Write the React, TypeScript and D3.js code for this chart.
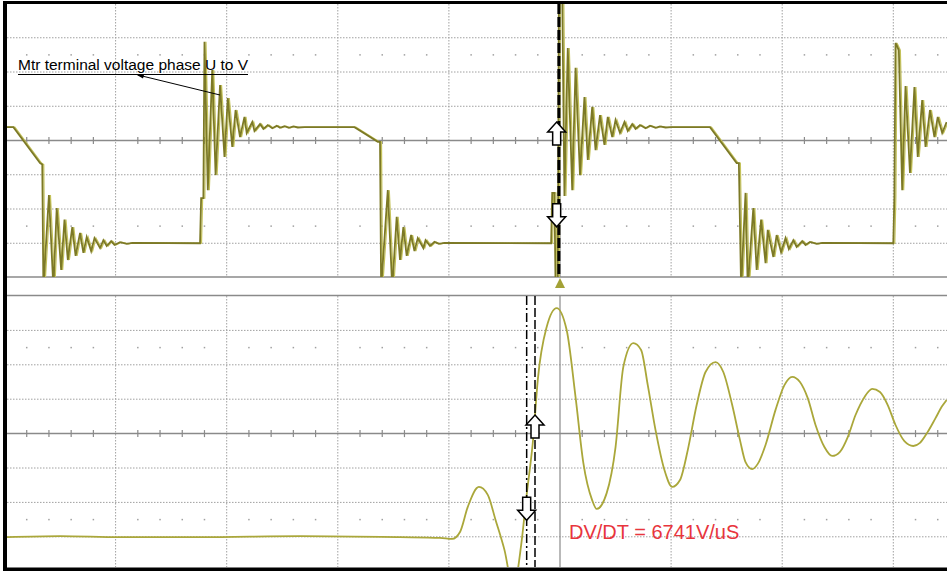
import React from 'react';
import * as d3 from 'd3';

// ---- data (units: oscilloscope divisions; t = horizontal, v = vertical) ----
const topTrace: [number, number][] = [
  [-4.99, 0.39], [-4.92, 0.39], [-4.68, -0.66],
  [-4.66, -0.7], [-4.65, -4.3], [-4.60, -1.59], [-4.56, -4.3], [-4.53, -1.97], [-4.49, -3.78],
  [-4.46, -2.31], [-4.43, -3.49], [-4.39, -2.53], [-4.36, -3.37], [-4.32, -2.70], [-4.29, -3.28],
  [-4.26, -2.82], [-4.22, -3.23], [-4.19, -2.85], [-4.14, -3.14], [-4.11, -2.91], [-4.08, -3.08],
  [-4.04, -2.94], [-4.01, -3.05], [-3.96, -2.97], [-3.90, -3.02], [-3.85, -2.99], [-3.24, -3.0],
  [-3.23, -1.68], [-3.21, -1.68], [-3.20, 2.88], [-3.17, -1.45], [-3.13, 2.06], [-3.10, -1.01],
  [-3.06, 1.62], [-3.02, -0.48], [-2.99, 1.24], [-2.95, -0.19], [-2.92, 0.89], [-2.88, 0.10],
  [-2.84, 0.69], [-2.82, 0.22], [-2.77, 0.54], [-2.75, 0.28], [-2.70, 0.48], [-2.67, 0.34],
  [-2.63, 0.45], [-2.59, 0.36], [-2.55, 0.43], [-2.52, 0.37], [-2.48, 0.42], [-2.44, 0.37],
  [-2.40, 0.41], [-2.36, 0.38], [-2.30, 0.39], [-1.85, 0.39],
  [-1.64, -0.04], [-1.62, -0.04], [-1.61, -4.3], [-1.55, -1.45], [-1.51, -4.3], [-1.47, -2.23],
  [-1.44, -3.49], [-1.41, -2.53], [-1.38, -3.37], [-1.34, -2.76], [-1.31, -3.23], [-1.28, -2.85],
  [-1.23, -3.14], [-1.21, -2.91], [-1.17, -3.08], [-1.13, -2.96], [-1.09, -3.02], [-1.04, -2.99],
  [-0.08, -3.0],
  [-0.07, -1.53], [-0.05, -1.53], [-0.04, -4.3], [-0.02, -4.3], [-0.01, 4.3], [0.02, 4.3],
  [0.04, -1.62], [0.07, 2.70], [0.11, -1.45], [0.14, 2.12], [0.18, -1.01], [0.22, 1.27],
  [0.25, -0.57], [0.29, 0.98], [0.32, -0.28], [0.36, 0.74], [0.40, -0.13], [0.43, 0.69],
  [0.47, 0.10], [0.50, 0.60], [0.54, 0.22], [0.58, 0.54], [0.61, 0.28], [0.65, 0.48],
  [0.68, 0.34], [0.72, 0.45], [0.77, 0.36], [0.81, 0.43], [0.86, 0.37], [0.90, 0.41],
  [0.95, 0.38], [1.00, 0.39], [1.35, 0.39],
  [1.59, -0.66], [1.61, -0.66], [1.63, -4.3], [1.67, -1.53], [1.69, -4.3], [1.74, -1.97],
  [1.77, -3.78], [1.81, -2.31], [1.85, -3.58], [1.87, -2.61], [1.92, -3.40], [1.95, -2.76],
  [1.99, -3.26], [2.03, -2.85], [2.06, -3.17], [2.10, -2.91], [2.13, -3.11], [2.18, -2.94],
  [2.21, -3.05], [2.25, -2.96], [2.31, -3.02], [2.36, -2.99], [3.00, -3.0],
  [3.01, -1.62], [3.02, 2.85], [3.05, 2.64], [3.08, -1.45], [3.11, 1.59], [3.15, -0.95],
  [3.19, 1.56], [3.22, -0.48], [3.26, 1.18], [3.29, -0.19], [3.33, 0.89], [3.37, 0.10],
  [3.40, 0.69], [3.44, 0.22], [3.48, 0.54],
];

const bottomTrace: [number, number][] = [
  [-4.99, -3.01], [-4.50, -2.98], [-3.96, -3.01], [-3.24, -3.01], [-2.34, -2.98], [-1.44, -3.01],
  [-1.08, -3.03], [-0.97, -3.06], [-0.90, -2.86], [-0.83, -2.13], [-0.73, -1.55], [-0.65, -1.78],
  [-0.58, -2.51], [-0.50, -3.38], [-0.42, -4.5], [-0.35, -3.25], [-0.30, -1.78], [-0.24, -0.10],
  [-0.20, 1.56], [-0.12, 3.10], [-0.03, 3.65], [0.06, 3.01], [0.14, 1.06], [0.21, -0.85],
  [0.29, -1.94], [0.33, -2.19], [0.42, -1.73], [0.50, -0.39], [0.57, 1.94], [0.66, 2.63],
  [0.73, 2.43], [0.79, 1.41], [0.86, 0.10], [0.94, -1.06], [1.01, -1.55], [1.08, -1.35],
  [1.15, -0.48], [1.23, 0.83], [1.31, 1.79], [1.40, 2.08], [1.47, 1.79], [1.55, 0.83],
  [1.62, -0.19], [1.67, -0.83], [1.73, -1.03], [1.78, -0.88], [1.85, -0.33], [1.94, 0.69],
  [2.02, 1.41], [2.09, 1.65], [2.16, 1.50], [2.23, 1.03], [2.30, 0.25], [2.38, -0.39],
  [2.45, -0.65], [2.52, -0.53], [2.59, -0.10], [2.66, 0.54], [2.74, 1.06], [2.81, 1.30],
  [2.88, 1.21], [2.95, 0.83], [3.02, 0.25], [3.10, -0.22], [3.18, -0.36], [3.24, -0.27],
  [3.31, 0.05], [3.38, 0.45], [3.44, 0.80], [3.48, 0.98],
];

const majorT = [-4, -3, -2, -1, 0, 1, 2, 3];
const gridV = [-3, -2, -1, 1, 2, 3];
const dotRowsV = [-2.5, 2.5];
const topCursorT = -0.01;
const topArrowT = -0.03;
const bottomCursorDashDotT = -0.3;
const bottomCursorDashT = -0.225;
const arrowUpTipV = 0.54;
const arrowDownTipV = -2.52;
const triggerT = 0;
const labelText = 'Mtr terminal voltage phase U to V';
const dvdtText = 'DV/DT = 6741V/uS';

const W = 947;
const H = 571;

export default function App() {
  const x = d3.scaleLinear().domain([-5, 5]).range([4.5, 1115.5]);
  const yTop = d3.scaleLinear().domain([-4, 4]).range([277.5, 3.5]);
  const yBot = d3.scaleLinear().domain([-4, 4]).range([571.2, 296]);

  const panels = [
    { id: 'top', y: yTop, y0: 4, y1: 277 },
    { id: 'bot', y: yBot, y0: 296, y1: 567 },
  ];
  const xL = 7;
  const xR = W;

  const minorT: number[] = [];
  for (let k = -25; k <= 18; k++) {
    if (k % 5 === 0) continue;
    const px = x(k / 5);
    if (px > xL + 2 && px < xR) minorT.push(k / 5);
  }

  const gray = '#8a8a8a';
  const dotGray = '#a0a0a0';

  const lineTop = d3.line<[number, number]>().x((d) => x(d[0])).y((d) => yTop(d[1]));
  const lineBot = d3
    .line<[number, number]>()
    .x((d) => x(d[0]))
    .y((d) => yBot(d[1]))
    .curve(d3.curveMonotoneX);

  const arrow = (cx: number, tipY: number, dir: 'up' | 'down') => {
    const s = dir === 'up' ? 1 : -1;
    const pts = [
      [0, 0], [9, 10], [4, 10], [4, 23], [-4, 23], [-4, 10], [-9, 10],
    ].map(([a, b]) => `${cx + a},${tipY + s * b}`);
    return <polygon points={pts.join(' ')} fill="#fff" stroke="#000" strokeWidth={1.5} strokeLinejoin="miter" />;
  };

  return (
    <svg
      width={W}
      height={H}
      style={{ position: 'absolute', left: 0, top: 0, background: '#fff' }}
      fontFamily="'Liberation Sans', Arial, sans-serif"
    >
      <defs>
        {panels.map((p) => (
          <clipPath id={`clip-${p.id}`} key={p.id}>
            <rect x={xL} y={p.y0} width={xR - xL} height={p.y1 - p.y0} />
          </clipPath>
        ))}
      </defs>
      <rect x={0} y={0} width={W} height={H} fill="#fff" />

      {panels.map((p) => {
        const yc = p.y(0);
        return (
          <g key={p.id}>
            {gridV.map((v) => (
              <line key={v} x1={xL} x2={xR} y1={p.y(v)} y2={p.y(v)} stroke={dotGray} strokeWidth={1} strokeDasharray="1.5,1.5" />
            ))}
            {majorT.filter((t) => t !== 0).map((t) => (
              <line key={t} x1={x(t)} x2={x(t)} y1={p.y0} y2={p.y1} stroke={dotGray} strokeWidth={1} strokeDasharray="1.5,1.5" />
            ))}
            {dotRowsV.map((v) =>
              minorT.map((t) => (
                <rect key={`${v}-${t}`} x={x(t) - 0.75} y={p.y(v) - 0.75} width={1.5} height={1.5} fill={dotGray} />
              ))
            )}
            <line x1={xL} x2={xR} y1={yc} y2={yc} stroke={gray} strokeWidth={1.5} />
            {minorT.map((t) => (
              <line key={t} x1={x(t)} x2={x(t)} y1={yc - 3.5} y2={yc + 3.5} stroke={gray} strokeWidth={1.2} />
            ))}
            <line x1={x(0)} x2={x(0)} y1={p.y0} y2={p.y1} stroke={gray} strokeWidth={1.2} />
          </g>
        );
      })}

      {/* panel separators */}
      <line x1={xL} x2={xR} y1={277} y2={277} stroke={gray} strokeWidth={1.5} />
      <line x1={xL} x2={xR} y1={295.5} y2={295.5} stroke={gray} strokeWidth={1.5} />

      {/* traces */}
      <g clipPath="url(#clip-top)">
        <path d={lineTop(topTrace) || ''} fill="none" stroke="#c4c25a" strokeWidth={1.2} transform="translate(1.5,0)" />
        <path d={lineTop(topTrace) || ''} fill="none" stroke="#7c7926" strokeWidth={1.8} />
      </g>
      <g clipPath="url(#clip-bot)">
        <path d={lineBot(bottomTrace) || ''} fill="none" stroke="#aaa73a" strokeWidth={1.8} />
      </g>

      {/* cursors */}
      <line x1={x(topCursorT)} x2={x(topCursorT)} y1={4} y2={277} stroke="#000" strokeWidth={3} strokeDasharray="10,3" />
      <line x1={x(bottomCursorDashDotT)} x2={x(bottomCursorDashDotT)} y1={296} y2={567} stroke="#000" strokeWidth={1.5} strokeDasharray="9,3,2,3" />
      <line x1={x(bottomCursorDashT)} x2={x(bottomCursorDashT)} y1={296} y2={567} stroke="#000" strokeWidth={1.5} strokeDasharray="9,3" />

      {arrow(x(topArrowT), yTop(arrowUpTipV), 'up')}
      {arrow(x(topArrowT), yTop(arrowDownTipV), 'down')}
      {arrow(x(bottomCursorDashT), yBot(arrowUpTipV), 'up')}
      {arrow(x(bottomCursorDashDotT), yBot(arrowDownTipV), 'down')}

      {/* trigger marker */}
      <polygon
        points={`${x(triggerT)},278 ${x(triggerT) + 5},288 ${x(triggerT) - 5},288`}
        fill="#a3a136"
      />

      {/* label */}
      <text x={18} y={70} fontSize={15.5} fill="#000">{labelText}</text>
      <line x1={18} x2={248} y1={74.5} y2={74.5} stroke="#000" strokeWidth={1} />
      <line x1={138} y1={75} x2={220} y2={95} stroke="#000" strokeWidth={1} />
      <polygon points="136,74.5 144,75 143,78.5" fill="#000" />

      <text x={569} y={539} fontSize={20} fill="#e8353d">{dvdtText}</text>

      {/* outer frame */}
      <rect x={3} y={1} width={4} height={H - 1} fill="#000" />
      <rect x={3} y={1} width={W - 3} height={3} fill="#000" />
      <rect x={3} y={567.5} width={W - 3} height={3.5} fill="#000" />
    </svg>
  );
}
